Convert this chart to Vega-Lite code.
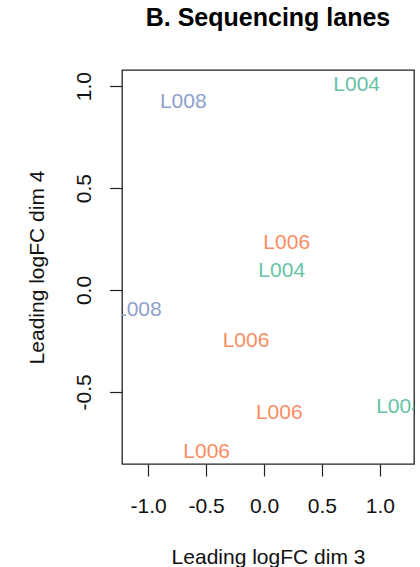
{
  "$schema": "https://vega.github.io/schema/vega-lite/v6.json",
  "autosize": {"type": "none"},
  "padding": {"left": 122, "top": 70, "right": 6, "bottom": 103},
  "width": 292,
  "height": 394,
  "background": "white",
  "title": {
    "text": "B. Sequencing lanes",
    "font": "Liberation Sans",
    "fontSize": 25,
    "fontWeight": "bold",
    "color": "#000000",
    "anchor": "middle",
    "frame": "group",
    "baseline": "alphabetic",
    "offset": 19
  },
  "data": {
    "values": [
      {"dim3": -0.697, "dim4": 0.929, "label": "L008"},
      {"dim3": 0.80, "dim4": 1.011, "label": "L004"},
      {"dim3": 0.196, "dim4": 0.237, "label": "L006"},
      {"dim3": 0.153, "dim4": 0.10, "label": "L004"},
      {"dim3": -1.085, "dim4": -0.095, "label": "L008"},
      {"dim3": -0.155, "dim4": -0.245, "label": "L006"},
      {"dim3": 0.132, "dim4": -0.597, "label": "L006"},
      {"dim3": -0.495, "dim4": -0.789, "label": "L006"},
      {"dim3": 1.17, "dim4": -0.569, "label": "L004"}
    ]
  },
  "mark": {
    "type": "text",
    "font": "Liberation Sans",
    "fontSize": 21,
    "align": "center",
    "baseline": "middle",
    "dy": 1,
    "clip": true
  },
  "encoding": {
    "x": {
      "field": "dim3",
      "type": "quantitative",
      "scale": {"domain": [-1.226, 1.295], "nice": false, "zero": false},
      "axis": {
        "values": [-1, -0.5, 0, 0.5, 1],
        "labelExpr": "datum.value < 0 ? '-' + format(-datum.value, '.1f') : format(datum.value, '.1f')",
        "tickSize": 12,
        "labelPadding": 19,
        "labelFlush": false,
        "labelOverlap": false,
        "title": "Leading logFC dim 3",
        "titleBaseline": "alphabetic",
        "titleAlign": "center",
        "titleX": 146,
        "titleY": 99
      }
    },
    "y": {
      "field": "dim4",
      "type": "quantitative",
      "scale": {"domain": [-0.854, 1.0795], "nice": false, "zero": false},
      "axis": {
        "values": [-0.5, 0, 0.5, 1],
        "labelExpr": "datum.value < 0 ? '-' + format(-datum.value, '.1f') : format(datum.value, '.1f')",
        "tickSize": 12.5,
        "labelAngle": 270,
        "labelAlign": "center",
        "labelBaseline": "alphabetic",
        "labelPadding": 19,
        "labelFlush": false,
        "labelOverlap": false,
        "title": "Leading logFC dim 4",
        "titleAngle": 270,
        "titleAlign": "center",
        "titleBaseline": "alphabetic",
        "titleX": -79,
        "titleY": 197
      }
    },
    "text": {"field": "label", "type": "nominal"},
    "color": {
      "field": "label",
      "type": "nominal",
      "scale": {"domain": ["L004", "L006", "L008"], "range": ["#66C2A5", "#FC8D62", "#8DA0CB"]},
      "legend": null
    }
  },
  "config": {
    "view": {"stroke": "#222222", "strokeWidth": 1.3},
    "axis": {
      "grid": false,
      "domain": false,
      "ticks": true,
      "tickColor": "#222222",
      "tickWidth": 1.2,
      "labelFont": "Liberation Sans",
      "labelFontSize": 21,
      "labelColor": "#111111",
      "titleFont": "Liberation Sans",
      "titleFontSize": 21,
      "titleFontWeight": "normal",
      "titleColor": "#111111"
    }
  }
}
